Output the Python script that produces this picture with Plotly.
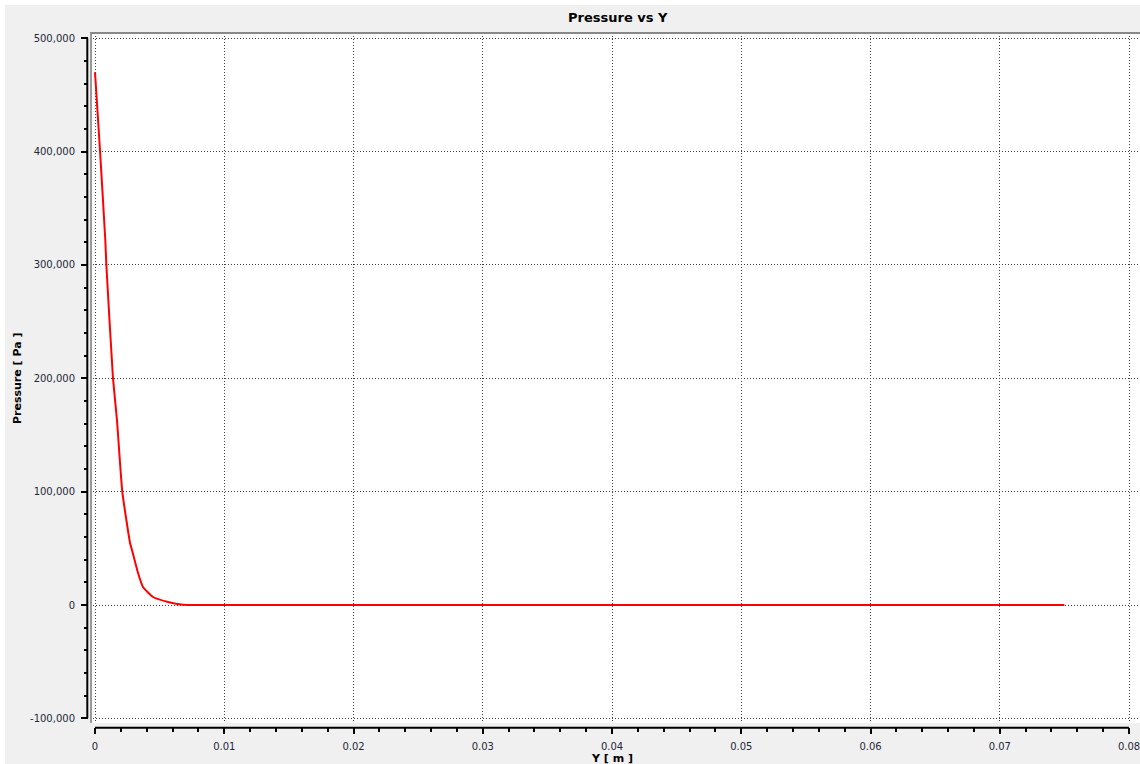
import plotly.graph_objects as go

# Data
y_pos_m = [0.0, 0.000387, 0.000797, 0.000874, 0.00139, 0.0017, 0.00211, 0.00271,
           0.00286, 0.00333, 0.00371, 0.00449, 0.00565, 0.00665, 0.0075, 0.02, 0.04, 0.06, 0.075]
pressure_pa = [470000, 401000, 322000, 300800, 200300, 163200, 100000, 54700,
               48500, 28200, 15900, 7060, 2650, 440, 0, 0, 0, 0, 0]

x_tickvals = [0, 0.01, 0.02, 0.03, 0.04, 0.05, 0.06, 0.07, 0.08]
x_ticktext = ["0", "0.01", "0.02", "0.03", "0.04", "0.05", "0.06", "0.07", "0.08"]
y_tickvals = [-100000, 0, 100000, 200000, 300000, 400000, 500000]
y_ticktext = ["-100,000", "0", "100,000", "200,000", "300,000", "400,000", "500,000"]

W, H = 1140, 764
ML, MR, MT, MB = 88, 0, 33, 37
PW, PH = W - ML - MR, H - MT - MB

tickfont = dict(family="DejaVu Sans", size=10, color="#1f2838")
grid_dash = "1px,2px"

fig = go.Figure()
fig.add_trace(go.Scatter(x=y_pos_m, y=pressure_pa, mode="lines",
                         line=dict(color="#ff0000", width=2, shape="spline", smoothing=0.4),
                         showlegend=False))

fig.update_layout(
    width=W, height=H,
    margin=dict(l=ML, r=MR, t=MT, b=MB, pad=0),
    paper_bgcolor="#f0f0f0",
    plot_bgcolor="#ffffff",
    xaxis=dict(
        domain=[2 / PW, 1], anchor="free", position=0,
        range=[-0.000387, 0.080851],
        tickvals=x_tickvals, ticktext=x_ticktext,
        ticks="outside", ticklen=6, tickwidth=2, tickcolor="#000000",
        ticklabelstandoff=4, ticklabeloverflow="allow",
        minor=dict(ticks="outside", dtick=0.002, tick0=0, ticklen=4, tickwidth=2,
                   tickcolor="#000000", showgrid=False),
        showgrid=True, gridcolor="#404040", griddash=grid_dash, gridwidth=1,
        zeroline=False, showline=False, tickfont=tickfont,
    ),
    yaxis=dict(
        domain=[4 / PH, 1], anchor="free", position=0,
        range=[-104102, 504632],
        tickvals=y_tickvals, ticktext=y_ticktext,
        ticks="outside", ticklen=7, tickwidth=2, tickcolor="#000000",
        ticklabelstandoff=4, ticklabeloverflow="allow",
        minor=dict(ticks="outside", dtick=20000, tick0=0, ticklen=4, tickwidth=2,
                   tickcolor="#000000", showgrid=False),
        showgrid=True, gridcolor="#404040", griddash=grid_dash, gridwidth=1,
        zeroline=False, showline=False, tickfont=tickfont,
    ),
    shapes=[
        # white outer strips
        dict(type="rect", xref="paper", yref="paper", x0=-ML / PW, x1=1,
             y0=1 + (MT - 5) / PH, y1=1 + MT / PH, fillcolor="#ffffff", line_width=0),
        dict(type="rect", xref="paper", yref="paper", x0=-ML / PW, x1=(5 - ML) / PW,
             y0=-MB / PH, y1=1 + MT / PH, fillcolor="#ffffff", line_width=0),
        # gray frame top and left
        dict(type="line", xref="paper", yref="paper", x0=2 / PW, x1=1, y0=1, y1=1,
             line=dict(color="#888888", width=2)),
        dict(type="line", xref="paper", yref="paper", x0=3 / PW, x1=3 / PW,
             y0=4 / PH, y1=1, line=dict(color="#999999", width=2)),
        # black axis lines spanning tick range
        dict(type="line", xref="paper", yref="y", x0=-0.7 / PW, x1=-0.7 / PW,
             y0=-100000, y1=500000, line=dict(color="#000000", width=2)),
        dict(type="line", xref="x", yref="paper", x0=0, x1=0.08,
             y0=-0.7 / PH, y1=-0.7 / PH, line=dict(color="#000000", width=2)),
    ],
    annotations=[
        dict(text="<b>Pressure vs Y</b>", xref="paper", yref="paper",
             x=(618 - ML) / PW, y=1 + (MT - 18) / PH, xanchor="center", yanchor="middle",
             showarrow=False, font=dict(family="DejaVu Sans", size=13, color="#000000")),
        dict(text="<b>Pressure [ Pa ]</b>", xref="paper", yref="paper",
             x=(18 - ML) / PW, y=(H - MB - 378) / PH, xanchor="center", yanchor="middle",
             textangle=-90, showarrow=False,
             font=dict(family="DejaVu Sans", size=11, color="#000000")),
        dict(text="<b>Y [ m ]</b>", xref="paper", yref="paper",
             x=(612 - ML) / PW, y=-(758 - (H - MB)) / PH, xanchor="center", yanchor="middle",
             showarrow=False, font=dict(family="DejaVu Sans", size=11, color="#000000")),
    ],
)

fig.write_html("out.html", config={"displayModeBar": False})

# remove the default page margin so the figure sits at the window's top-left corner
with open("out.html", "r", encoding="utf-8") as f:
    html = f.read()
html = html.replace("<body>", '<body style="margin:0;padding:0;overflow:hidden">', 1)
with open("out.html", "w", encoding="utf-8") as f:
    f.write(html)
